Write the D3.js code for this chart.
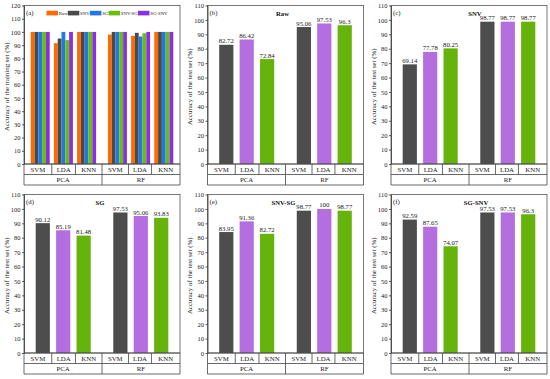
<!DOCTYPE html>
<html>
<head>
<meta charset="utf-8">
<script src="https://cdn.jsdelivr.net/npm/d3@7"></script>
<style>
  body { margin: 0; background: #fff; }
  svg { display: block; font-family: "Liberation Serif", "Times New Roman", serif; }
  .frame { fill: none; stroke: #555; stroke-width: 0.8; }
  .axis path, .axis line { stroke: #333; stroke-width: 0.8; }
  .axis text { font-size: 6.5px; fill: #222; font-family: "Liberation Serif", serif; }
  .table line { stroke: #444; stroke-width: 0.8; }
  .cell { font-size: 6.8px; fill: #222; text-anchor: middle; }
  .val { font-size: 6.7px; fill: #222; text-anchor: middle; }
  .ytitle { font-size: 6.9px; fill: #222; text-anchor: middle; }
  .title { font-size: 6.7px; font-weight: bold; fill: #111; text-anchor: middle; }
  .letter { font-size: 6.8px; fill: #222; }
  .legend text { font-size: 4.8px; fill: #222; }
</style>
</head>
<body>
<svg id="chart" width="550" height="379"></svg>
<script>
// ---- data ----
var categories = ["SVM", "LDA", "KNN", "SVM", "LDA", "KNN"];
var methods = ["PCA", "RF"];

// panel (a): training accuracy for each pretreatment
var trainSeries = ["Raw", "SNV", "SG", "SNV-SG", "SG-SNV"];
var trainRaw    = [100, 91.5, 100, 98, 97, 100];
var trainSNV    = [100, 95, 100, 100, 99.3, 100];
var trainSG     = [100, 100, 100, 100, 96.5, 100];
var trainSNVSG  = [100, 93.8, 100, 100, 99, 100];
var trainSGSNV  = [100, 100, 100, 100, 100, 100];
var trainTicks  = d3.range(0, 121, 10);

// panels (b)-(f): test accuracy
var testTitles  = ["Raw", "SNV", "SG", "SNV-SG", "SG-SNV"];
var testRaw     = [82.72, 86.42, 72.84, 95.06, 97.53, 96.3];
var testSNV     = [69.14, 77.78, 80.25, 98.77, 98.77, 98.77];
var testSG      = [90.12, 85.19, 81.48, 97.53, 95.06, 93.83];
var testSNVSG   = [83.95, 91.36, 82.72, 98.77, 100, 98.77];
var testSGSNV   = [92.59, 87.65, 74.07, 97.53, 97.53, 96.3];
var testTicks   = d3.range(0, 111, 10);

// ---- layout ----
var trainColors = ["#ff6a00", "#4a4a4a", "#1e78e6", "#68bd0e", "#8b30e0"];
var testColors  = ["#4d4d4d", "#b46ee0", "#66b30c"];
var lefts = [24, 207.5, 391];
var tops = [5.5, 194.5];
var pw = 156, ph = 158.5;
var cellEdges = [0, 0.178, 0.33, 0.5, 0.67, 0.817, 1];
var titleShift = [-3, 6, -2, -2, 7];

var svg = d3.select("#chart");

function drawPanel(opt) {
  var g = svg.append("g").attr("transform", "translate(" + opt.left + "," + opt.top + ")");

  var y = d3.scaleLinear().domain([0, opt.yMax]).range([ph, 0]);
  var x = d3.scaleLinear().domain(opt.xDomain).range([0, pw]);

  // bars
  if (opt.grouped) {
    var sub = d3.scaleBand().domain(d3.range(opt.series.length))
      .range([-opt.barW / 2, opt.barW / 2]);
    opt.series.forEach(function(vals, s) {
      g.selectAll("rect.s" + s)
        .data(vals)
        .enter()
        .append("rect")
        .attr("x", function(d, i) { return x(opt.pos[i]) + sub(s); })
        .attr("y", function(d) { return y(d); })
        .attr("width", sub.bandwidth())
        .attr("height", function(d) { return ph - y(d); })
        .attr("fill", trainColors[s]);
    });
  } else {
    g.selectAll("rect.bar")
      .data(opt.values)
      .enter()
      .append("rect")
      .attr("x", function(d, i) { return x(opt.pos[i]) - opt.barW / 2; })
      .attr("y", function(d) { return y(d); })
      .attr("width", opt.barW)
      .attr("height", function(d) { return ph - y(d); })
      .attr("fill", function(d, i) { return testColors[i % 3]; });

    g.selectAll("text.val")
      .data(opt.values)
      .enter()
      .append("text")
      .classed("val", true)
      .attr("x", function(d, i) { return x(opt.pos[i]); })
      .attr("y", function(d) { return y(d) - 1.5; })
      .text(function(d) { return String(d); });
  }

  // frame and axis
  g.append("rect").classed("frame", true).attr("width", pw).attr("height", ph);
  g.append("g").classed("axis", true)
    .call(d3.axisLeft(y).tickValues(opt.ticks).tickSize(2).tickPadding(1.5).tickSizeOuter(0));

  // category table under the axis
  var t = g.append("g").classed("table", true).attr("transform", "translate(0," + ph + ")");
  var r1 = 10.5, r2 = 21;
  [0, r1, r2].forEach(function(yy) {
    t.append("line").attr("x1", 0).attr("x2", pw).attr("y1", yy).attr("y2", yy);
  });
  cellEdges.forEach(function(f) {
    t.append("line").attr("x1", f * pw).attr("x2", f * pw).attr("y1", 0).attr("y2", r1);
  });
  [0, 0.5, 1].forEach(function(f) {
    t.append("line").attr("x1", f * pw).attr("x2", f * pw).attr("y1", r1).attr("y2", r2);
  });
  categories.forEach(function(c, i) {
    t.append("text").classed("cell", true)
      .attr("x", (cellEdges[i] + cellEdges[i + 1]) / 2 * pw)
      .attr("y", 7.8)
      .text(c);
  });
  methods.forEach(function(m, i) {
    t.append("text").classed("cell", true)
      .attr("x", (i * 0.5 + 0.25) * pw)
      .attr("y", 18.2)
      .text(m);
  });

  // labels
  g.append("text").classed("ytitle", true)
    .attr("transform", "translate(-15.5," + (ph / 2 + 2) + ") rotate(-90)")
    .text(opt.yTitle);
  g.append("text").classed("letter", true).attr("x", 2).attr("y", 9.8).text(opt.letter);
  if (opt.title) {
    g.append("text").classed("title", true)
      .attr("x", pw / 2 + opt.titleDx).attr("y", 10.8).text(opt.title);
  }
  return g;
}

// panel (a)
var ga = drawPanel({
  left: lefts[0], top: tops[0], yMax: 120, ticks: trainTicks,
  xDomain: [0.3, 7.03], pos: [1, 2, 3, 4.33, 5.33, 6.33],
  grouped: true, series: [trainRaw, trainSNV, trainSG, trainSNVSG, trainSGSNV], barW: 19,
  yTitle: "Accuracy of the training set (%)", letter: "(a)"
});

// legend for (a)
var lg = ga.append("g").classed("legend", true);
var lx = 22.5;
trainSeries.forEach(function(name, i) {
  lg.append("rect").attr("x", lx).attr("y", 5.3).attr("width", 11.5).attr("height", 4.6)
    .attr("fill", trainColors[i]);
  var tx = lg.append("text").attr("x", lx + 12.3).attr("y", 9.6).text(name);
  lx = lx + 12.3 + tx.node().getComputedTextLength() + 0.2;
});

// panels (b)-(f)
var testData = [testRaw, testSNV, testSG, testSNVSG, testSGSNV];
var letters = ["(b)", "(c)", "(d)", "(e)", "(f)"];
testData.forEach(function(vals, k) {
  var idx = k + 1;
  drawPanel({
    left: lefts[idx % 3], top: tops[Math.floor(idx / 3)], yMax: 110, ticks: testTicks,
    xDomain: [0.08, 7.72], pos: [1, 2, 3, 4.8, 5.8, 6.8],
    grouped: false, values: vals, barW: 14.2,
    yTitle: "Accuracy of the test set (%)", letter: letters[k],
    title: testTitles[k], titleDx: titleShift[k]
  });
});
</script>
</body>
</html>
